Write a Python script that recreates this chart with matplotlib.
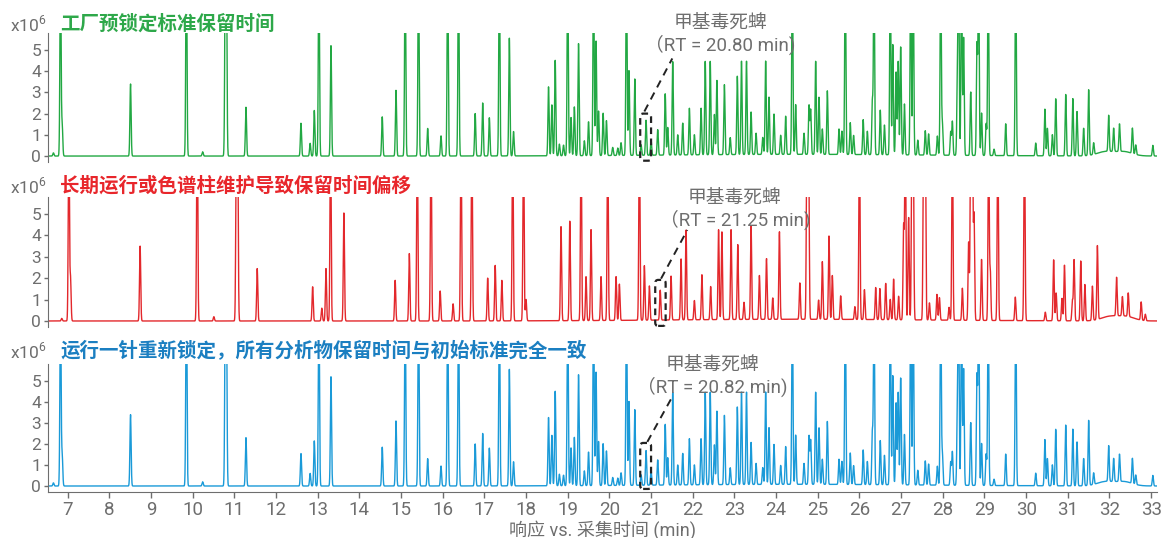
import matplotlib
matplotlib.use("Agg")
import matplotlib.pyplot as plt
import numpy as np
from matplotlib.patches import FancyBboxPatch

plt.rcParams['font.family'] = ['Roboto', 'Noto Sans CJK SC', 'DejaVu Sans']

# peak lists: retention time (min), height (x10^6)
factory_rt = [6.66, 6.83, 6.87, 8.51, 9.85, 10.24, 10.785, 10.81, 11.28, 12.60, 12.82, 12.92,
              13.03, 13.32, 14.55, 14.88, 15.10, 15.42, 15.64, 15.96, 16.12, 16.38, 16.78,
              16.96, 17.12, 17.36, 17.60, 17.70, 18.54, 18.62, 18.70, 18.80, 18.90, 19.00,
              19.08, 19.16, 19.26, 19.40, 19.50, 19.62, 19.68, 19.74, 19.85, 19.93, 20.08,
              20.20, 20.28, 20.41, 20.47, 20.61, 20.76, 20.88, 21.00, 21.16, 21.34, 21.40,
              21.52, 21.64, 21.76, 21.92, 22.04, 22.20, 22.30, 22.42, 22.52, 22.58, 22.76,
              22.90, 23.07, 23.17, 23.29, 23.40, 23.52, 23.68, 23.75, 23.83, 23.95, 24.11,
              24.23, 24.39, 24.47, 24.67, 24.79, 24.83, 24.95, 25.03, 25.11, 25.23, 25.51,
              25.58, 25.66, 25.78, 25.86, 26.09, 26.19, 26.31, 26.35, 26.50, 26.60, 26.74,
              26.80, 26.88, 26.93, 26.99, 27.08, 27.23, 27.29, 27.40, 27.58, 27.66, 27.87,
              27.95, 27.99, 28.19, 28.23, 28.35, 28.38, 28.45, 28.50, 28.67, 28.82, 28.86,
              28.93, 29.04, 29.09, 29.23, 29.51, 29.75, 30.23, 30.45, 30.51, 30.63, 30.71,
              30.95, 31.12, 31.22, 31.38, 31.50, 31.62, 31.98, 32.10, 32.24, 32.55, 32.63,
              33.04]
factory_h = [0.15, 9, 1.5, 3.4, 10, 0.2, 9, 9, 2.3, 1.55, 0.6, 2.15,
             9, 5.2, 1.85, 3.1, 9, 9, 1.3, 0.95, 9, 9, 2.0,
             2.5, 1.8, 9, 5.55, 1.15, 3.25, 2.4, 4.5, 0.55, 0.5, 9,
             1.8, 2.3, 5.3, 0.7, 1.6, 9, 5.4, 2.1, 2.0, 1.65, 0.38,
             0.35, 0.6, 9, 4.0, 3.6, 0.5, 1.65, 0.7, 1.2, 2.9, 1.3,
             4.4, 0.95, 1.5, 2.2, 0.95, 2.2, 4.4, 4.4, 1.9, 3.5, 3.3,
             0.8, 3.7, 4.4, 4.4, 2.0, 1.0, 0.8, 4.4, 2.7, 1.9, 0.9,
             1.8, 9, 2.35, 1.0, 2.3, 2.1, 4.4, 2.7, 1.2, 3.0, 1.2,
             1.1, 9, 1.5, 0.9, 1.65, 1.1, 2.5, 9, 2.1, 1.4, 9,
             5.2, 3.9, 4.4, 5.1, 2.4, 9, 9, 0.7, 1.15, 1.0, 0.9,
             9, 1.5, 1.1, 1.6, 3.4, 9, 9, 5.55, 3.0, 5.2, 9,
             2.0, 1.5, 9, 0.3, 1.5, 9, 0.6, 2.2, 1.3, 1.0, 2.7,
             2.9, 2.7, 2.1, 1.3, 3.1, 0.55, 1.7, 1.1, 1.3, 1.2, 0.45,
             0.5]
factory_hump_rt = [24.5, 31.9, 32.35]
factory_hump_h = [0.08, 0.2, 0.2]
factory_hump_w = [3.0, 0.2, 0.2]

shifted_rt = [6.86, 7.03, 7.07, 8.74, 10.11, 10.51, 11.05, 11.08, 11.55, 12.88, 13.10, 13.20,
              13.31, 13.63, 14.86, 15.20, 15.39, 15.72, 15.94, 16.25, 16.44, 16.70, 17.08,
              17.26, 17.42, 17.68, 17.94, 18.00, 18.84, 19.05, 19.32, 19.44, 19.56, 19.80,
              19.96, 20.16, 20.24, 20.72, 20.84, 20.96, 21.22, 21.48, 21.72, 21.84, 22.04,
              22.22, 22.43, 22.62, 22.70, 22.92, 23.08, 23.23, 23.40, 23.60, 23.77, 23.92,
              24.08, 24.57, 24.74, 24.78, 25.02, 25.11, 25.27, 25.35, 25.55, 25.89, 26.00,
              26.12, 26.39, 26.49, 26.63, 26.74, 26.82, 26.94, 27.06, 27.10, 27.18, 27.26,
              27.29, 27.54, 27.58, 27.68, 27.86, 27.92, 28.15, 28.23, 28.47, 28.62, 28.67,
              28.71, 28.75, 28.93, 29.10, 29.14, 29.32, 29.74, 29.96, 30.46, 30.66, 30.72,
              30.86, 30.92, 31.11, 31.15, 31.31, 31.41, 31.59, 31.71, 32.17, 32.31, 32.45,
              32.76, 32.86]
shifted_h = [0.12, 9, 2.0, 3.5, 10, 0.2, 9, 9, 2.45, 1.6, 0.6, 2.45,
             9, 5.05, 1.9, 3.15, 9, 9, 1.4, 0.8, 9, 9, 2.0,
             2.6, 1.9, 9, 9, 1.0, 4.4, 4.65, 9, 2.05, 4.25, 2.05,
             9, 2.05, 1.7, 9, 2.55, 1.6, 1.4, 2.05, 2.85, 4.2, 0.9,
             2.1, 1.55, 4.2, 4.1, 4.2, 3.5, 0.8, 4.35, 2.05, 2.85, 1.0,
             4.1, 1.7, 9, 9, 0.9, 2.7, 3.9, 2.05, 1.1, 0.6, 9,
             1.4, 1.5, 1.45, 1.7, 0.95, 1.9, 1.1, 4.35, 9, 4.8, 9,
             9, 9, 9, 0.8, 1.2, 1.05, 0.6, 9, 1.5, 3.65, 9,
             9, 4.9, 2.85, 9, 2.3, 9, 1.1, 9, 0.4, 2.85, 1.3,
             1.05, 2.6, 0.95, 2.85, 2.8, 1.7, 1.6, 3.45, 1.8, 0.9, 1.1,
             0.85, 0.3]
shifted_hump_rt = [24.5, 32.0, 32.4]
shifted_hump_h = [0.08, 0.2, 0.2]
shifted_hump_w = [3.0, 0.2, 0.2]

titles = ['工厂预锁定标准保留时间',
          '长期运行或色谱柱维护导致保留时间偏移',
          '运行一针重新锁定，所有分析物保留时间与初始标准完全一致']
title_colors = ['#2ea84a', '#e8262b', '#1b7fc1']
line_colors = ['#22a843', '#e3282c', '#1a9ad8']
target_rt = [20.80, 21.25, 20.82]

GRAY = '#6e6e6e'
W, H = 1163, 538


def trace(t, rts, hs, hump_rt, hump_h, hump_w, sigma=0.014):
    y = np.zeros_like(t)
    for r, h in zip(rts, hs):
        y += h * np.exp(-0.5 * ((t - r) / sigma) ** 2)
    for r, h, w in zip(hump_rt, hump_h, hump_w):
        y += h * np.exp(-0.5 * ((t - r) / w) ** 2)
    return y


t = np.linspace(6.5, 33.2, 10000)
traces = [
    trace(t, factory_rt, factory_h, factory_hump_rt, factory_hump_h, factory_hump_w),
    trace(t, shifted_rt, shifted_h, shifted_hump_rt, shifted_hump_h, shifted_hump_w),
    trace(t, factory_rt, factory_h, factory_hump_rt, factory_hump_h, factory_hump_w),
]

fig = plt.figure(figsize=(W / 100, H / 100), dpi=100)

# axes placement in pixels: (top, bottom) of each panel
panel_px = [(33, 162.4), (196.9, 327.4), (364.2, 492.3)]
left_px, right_px = 48, 1157

# box around the target peak (x0, x1, y0, y1) and leader line ends
boxes = [(20.74, 21.00, -0.22, 2.0), (21.10, 21.35, -0.23, 1.92), (20.74, 21.00, -0.14, 2.05)]
leaders = [((20.84, 2.1), (21.51, 4.6)), ((21.24, 1.98), (21.87, 4.25)), ((20.91, 2.1), (21.51, 4.25))]
# annotation text centres (pixels)
ann_px = [(720, 22, 45), (735, 197, 220), (712, 364, 387)]
title_y = [24, 186, 351]

for i in range(3):
    top, bot = panel_px[i]
    ax = fig.add_axes([left_px / W, 1 - bot / H, (right_px - left_px) / W, (bot - top) / H])
    ax.plot(t, traces[i], color=line_colors[i], lw=1.0)
    ax.set_xlim(6.53, 33.14)
    ax.set_ylim(-0.3, 5.8)
    ax.set_yticks([0, 1, 2, 3, 4, 5])
    ax.tick_params(axis='y', colors=GRAY, labelsize=12.5, length=3, width=1, pad=2)
    for s in ['top', 'right']:
        ax.spines[s].set_visible(False)
    ax.spines['left'].set_color(GRAY)
    if i < 2:
        ax.spines['bottom'].set_visible(False)
        ax.set_xticks([])
    else:
        ax.spines['bottom'].set_color(GRAY)
        ax.set_xticks(range(7, 34))
        ax.tick_params(axis='x', colors=GRAY, labelsize=13.5, length=4, width=1, pad=2)
        ax.set_xlabel('响应 vs. 采集时间 (min)', color=GRAY, fontsize=13, labelpad=1)
    ax.patch.set_alpha(0)

    x0, x1, y0, y1 = boxes[i]
    ax.add_patch(FancyBboxPatch((x0, y0), x1 - x0, y1 - y0,
                                boxstyle='round,pad=0,rounding_size=0.07', mutation_aspect=2.2,
                                fill=False, ec='#222222', lw=1.6, ls=(0, (3, 2)), zorder=5))
    (a, b), (c, d) = leaders[i]
    ax.plot([a, c], [b, d], color='#222222', lw=1.4, ls=(0, (4, 3)), zorder=5)

    cx, y_name, y_rt = ann_px[i]
    fig.text(cx / W, 1 - y_name / H, '甲基毒死蜱', ha='center', va='center',
             color=GRAY, fontsize=13.5, family=['Noto Sans CJK SC'])
    fig.text(cx / W, 1 - y_rt / H, '（RT = %.2f min)' % target_rt[i], ha='center', va='center',
             color=GRAY, fontsize=13.5)

    fig.text(10 / W, 1 - title_y[i] / H, 'x10$^{\\mathregular{6}}$', ha='left', va='center',
             color=GRAY, fontsize=12.5)
    fig.text(60 / W, 1 - title_y[i] / H, titles[i], ha='left', va='center',
             color=title_colors[i], fontsize=14, fontweight='bold', family=['Noto Sans CJK SC'])

fig.savefig('out.png', dpi=100)
